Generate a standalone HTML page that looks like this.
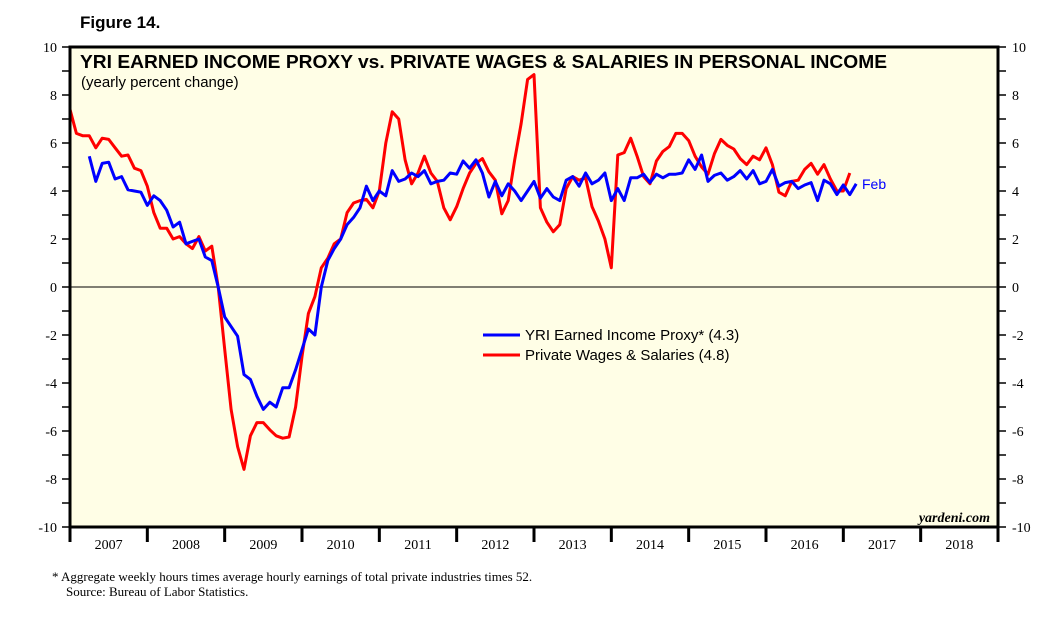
<!DOCTYPE html>
<html><head><meta charset="utf-8"><style>
body{margin:0;background:#fff;width:1057px;height:620px;overflow:hidden;font-family:"Liberation Sans",sans-serif}
</style></head><body>
<svg id="chart" width="1057" height="620" xmlns="http://www.w3.org/2000/svg">
<text x="80" y="28" font-size="17" font-weight="bold">Figure 14.</text>
<rect x="70" y="47" width="928" height="480" fill="#fffee6"/>
<g id="grid"></g>
<text x="80" y="68" font-size="18.5" font-weight="bold" textLength="807" lengthAdjust="spacingAndGlyphs">YRI EARNED INCOME PROXY vs. PRIVATE WAGES &amp; SALARIES IN PERSONAL INCOME</text>
<text x="81" y="87" font-size="15">(yearly percent change)</text>
<g id="series"></g>
<text x="862" y="189" font-size="14" fill="#0000ff">Feb</text>
<line x1="483" y1="335" x2="520" y2="335" stroke="#0000ff" stroke-width="3"/>
<text x="525" y="340" font-size="15">YRI Earned Income Proxy* (4.3)</text>
<line x1="483" y1="355" x2="520" y2="355" stroke="#ff0000" stroke-width="3"/>
<text x="525" y="360" font-size="15">Private Wages &amp; Salaries (4.8)</text>
<text x="990" y="522" font-size="14" font-style="italic" font-weight="bold" text-anchor="end" font-family="Liberation Serif,serif">yardeni.com</text>
<rect x="70" y="47" width="928" height="480" fill="none" stroke="#000" stroke-width="3"/>
<text x="52" y="581" font-size="13" font-family="Liberation Serif,serif">*   Aggregate weekly hours times average hourly earnings of total private industries times 52.</text>
<text x="66" y="596" font-size="13" font-family="Liberation Serif,serif">Source: Bureau of Labor Statistics.</text>
</svg>
<script>
const yTicks=[-10,-8,-6,-4,-2,0,2,4,6,8,10];
const years=["2007","2008","2009","2010","2011","2012","2013","2014","2015","2016","2017","2018"];
const wages=[7.4,6.4,6.3,6.3,5.8,6.2,6.15,5.8,5.45,5.5,4.95,4.85,4.2,3.1,2.45,2.45,2.0,2.1,1.8,1.6,2.1,1.5,1.7,0.0,-2.6,-5.1,-6.65,-7.6,-6.2,-5.65,-5.65,-5.95,-6.2,-6.3,-6.25,-5.0,-2.9,-1.1,-0.4,0.8,1.2,1.8,2.0,3.1,3.5,3.6,3.65,3.3,4.0,
6.0,7.3,7.0,5.3,4.3,4.75,5.45,4.75,4.4,3.3,2.8,3.35,4.1,4.75,5.15,5.35,4.8,4.45,3.05,3.6,5.3,6.8,8.65,8.85,3.3,2.7,2.3,2.6,4.1,4.6,4.45,4.55,3.35,2.75,2.0,0.8,5.5,5.6,6.2,5.45,4.6,4.3,5.25,5.65,5.85,6.4,6.4,6.1,
5.45,5.0,4.7,5.55,6.15,5.9,5.75,5.35,5.1,5.45,5.3,5.8,5.1,3.95,3.8,4.4,4.45,4.9,5.15,4.7,5.1,4.5,4.0,4.0,4.75];
const wagesStart=0;
const proxy=[5.45,4.4,5.15,5.2,4.5,4.6,4.05,4.0,3.95,3.4,3.8,3.6,3.2,2.5,2.7,1.8,1.9,2.0,1.25,1.1,0.0,-1.25,-1.65,-2.05,-3.65,-3.85,-4.55,-5.1,-4.8,-5.0,-4.2,-4.2,-3.45,-2.6,-1.75,-2.0,0.0,1.1,1.6,2.0,2.6,2.9,3.3,4.2,3.6,4.0,
3.8,4.85,4.4,4.5,4.75,4.6,4.85,4.3,4.4,4.45,4.75,4.7,5.25,4.95,5.3,4.75,3.75,4.4,3.8,4.3,4.0,3.6,4.0,4.4,3.7,4.1,3.75,3.6,4.45,4.6,4.2,4.75,4.3,4.45,4.75,3.6,4.1,3.6,4.55,4.55,4.7,4.35,4.7,4.55,4.7,4.7,4.75,5.3,
4.9,5.5,4.4,4.65,4.75,4.45,4.6,4.85,4.5,4.85,4.3,4.4,4.9,4.2,4.35,4.4,4.1,4.25,4.35,3.6,4.45,4.3,3.85,4.25,3.85,4.3];
const proxyStart=3;
const NS="http://www.w3.org/2000/svg";
const X0=70,X1=998,Y0=47,Y1=527,monthW=(X1-X0)/144;
const yS=v=>Y0+(10-v)*(Y1-Y0)/20;
const xS=i=>X0+i*monthW;
function mk(t,a,p){const e=document.createElementNS(NS,t);for(const k in a)e.setAttribute(k,a[k]);p.appendChild(e);return e;}
const grid=document.getElementById('grid');
yTicks.forEach(v=>{
  const y=yS(v);
  const l=mk('text',{x:57,y:y+5,'font-size':14,'text-anchor':'end','font-family':'Liberation Serif,serif'},grid);l.textContent=v;
  
  
  const r=mk('text',{x:1012,y:y+5,'font-size':14,'font-family':'Liberation Serif,serif'},grid);r.textContent=v;
  
  
});
for(let v=-10;v<=10;v++){const y=yS(v);mk('line',{x1:X0-8,x2:X0,y1:y,y2:y,stroke:'#000','stroke-width':1.5},grid);mk('line',{x1:X1,x2:X1+8,y1:y,y2:y,stroke:'#000','stroke-width':1.5},grid);}
const z=mk('line',{x1:X0,x2:X1,y1:yS(0),y2:yS(0),stroke:'#000','stroke-width':1},grid);


years.forEach((yr,k)=>{
  const xa=xS(k*12),xb=xS(k*12+12);
  mk('line',{x1:xa,x2:xa,y1:Y1,y2:Y1+15,stroke:'#000','stroke-width':3},grid);
  const t=mk('text',{x:(xa+xb)/2,y:549,'font-size':14,'text-anchor':'middle','font-family':'Liberation Serif,serif'},grid);t.textContent=yr;
  
  
});
mk('line',{x1:X1,x2:X1,y1:Y1,y2:Y1+15,stroke:'#000','stroke-width':3},grid);
const ser=document.getElementById('series');
function line(vals,start,color,name){
  const pts=vals.map((v,i)=>xS(start+i).toFixed(1)+','+yS(v).toFixed(1)).join(' ');
  const p=mk('polyline',{points:pts,fill:'none',stroke:color,'stroke-width':3,'stroke-linejoin':'round'},ser);
  
  
}
line(wages,wagesStart,'#ff0000','wages-line');
line(proxy,proxyStart,'#0000ff','proxy-line');
</script>
</body></html>
